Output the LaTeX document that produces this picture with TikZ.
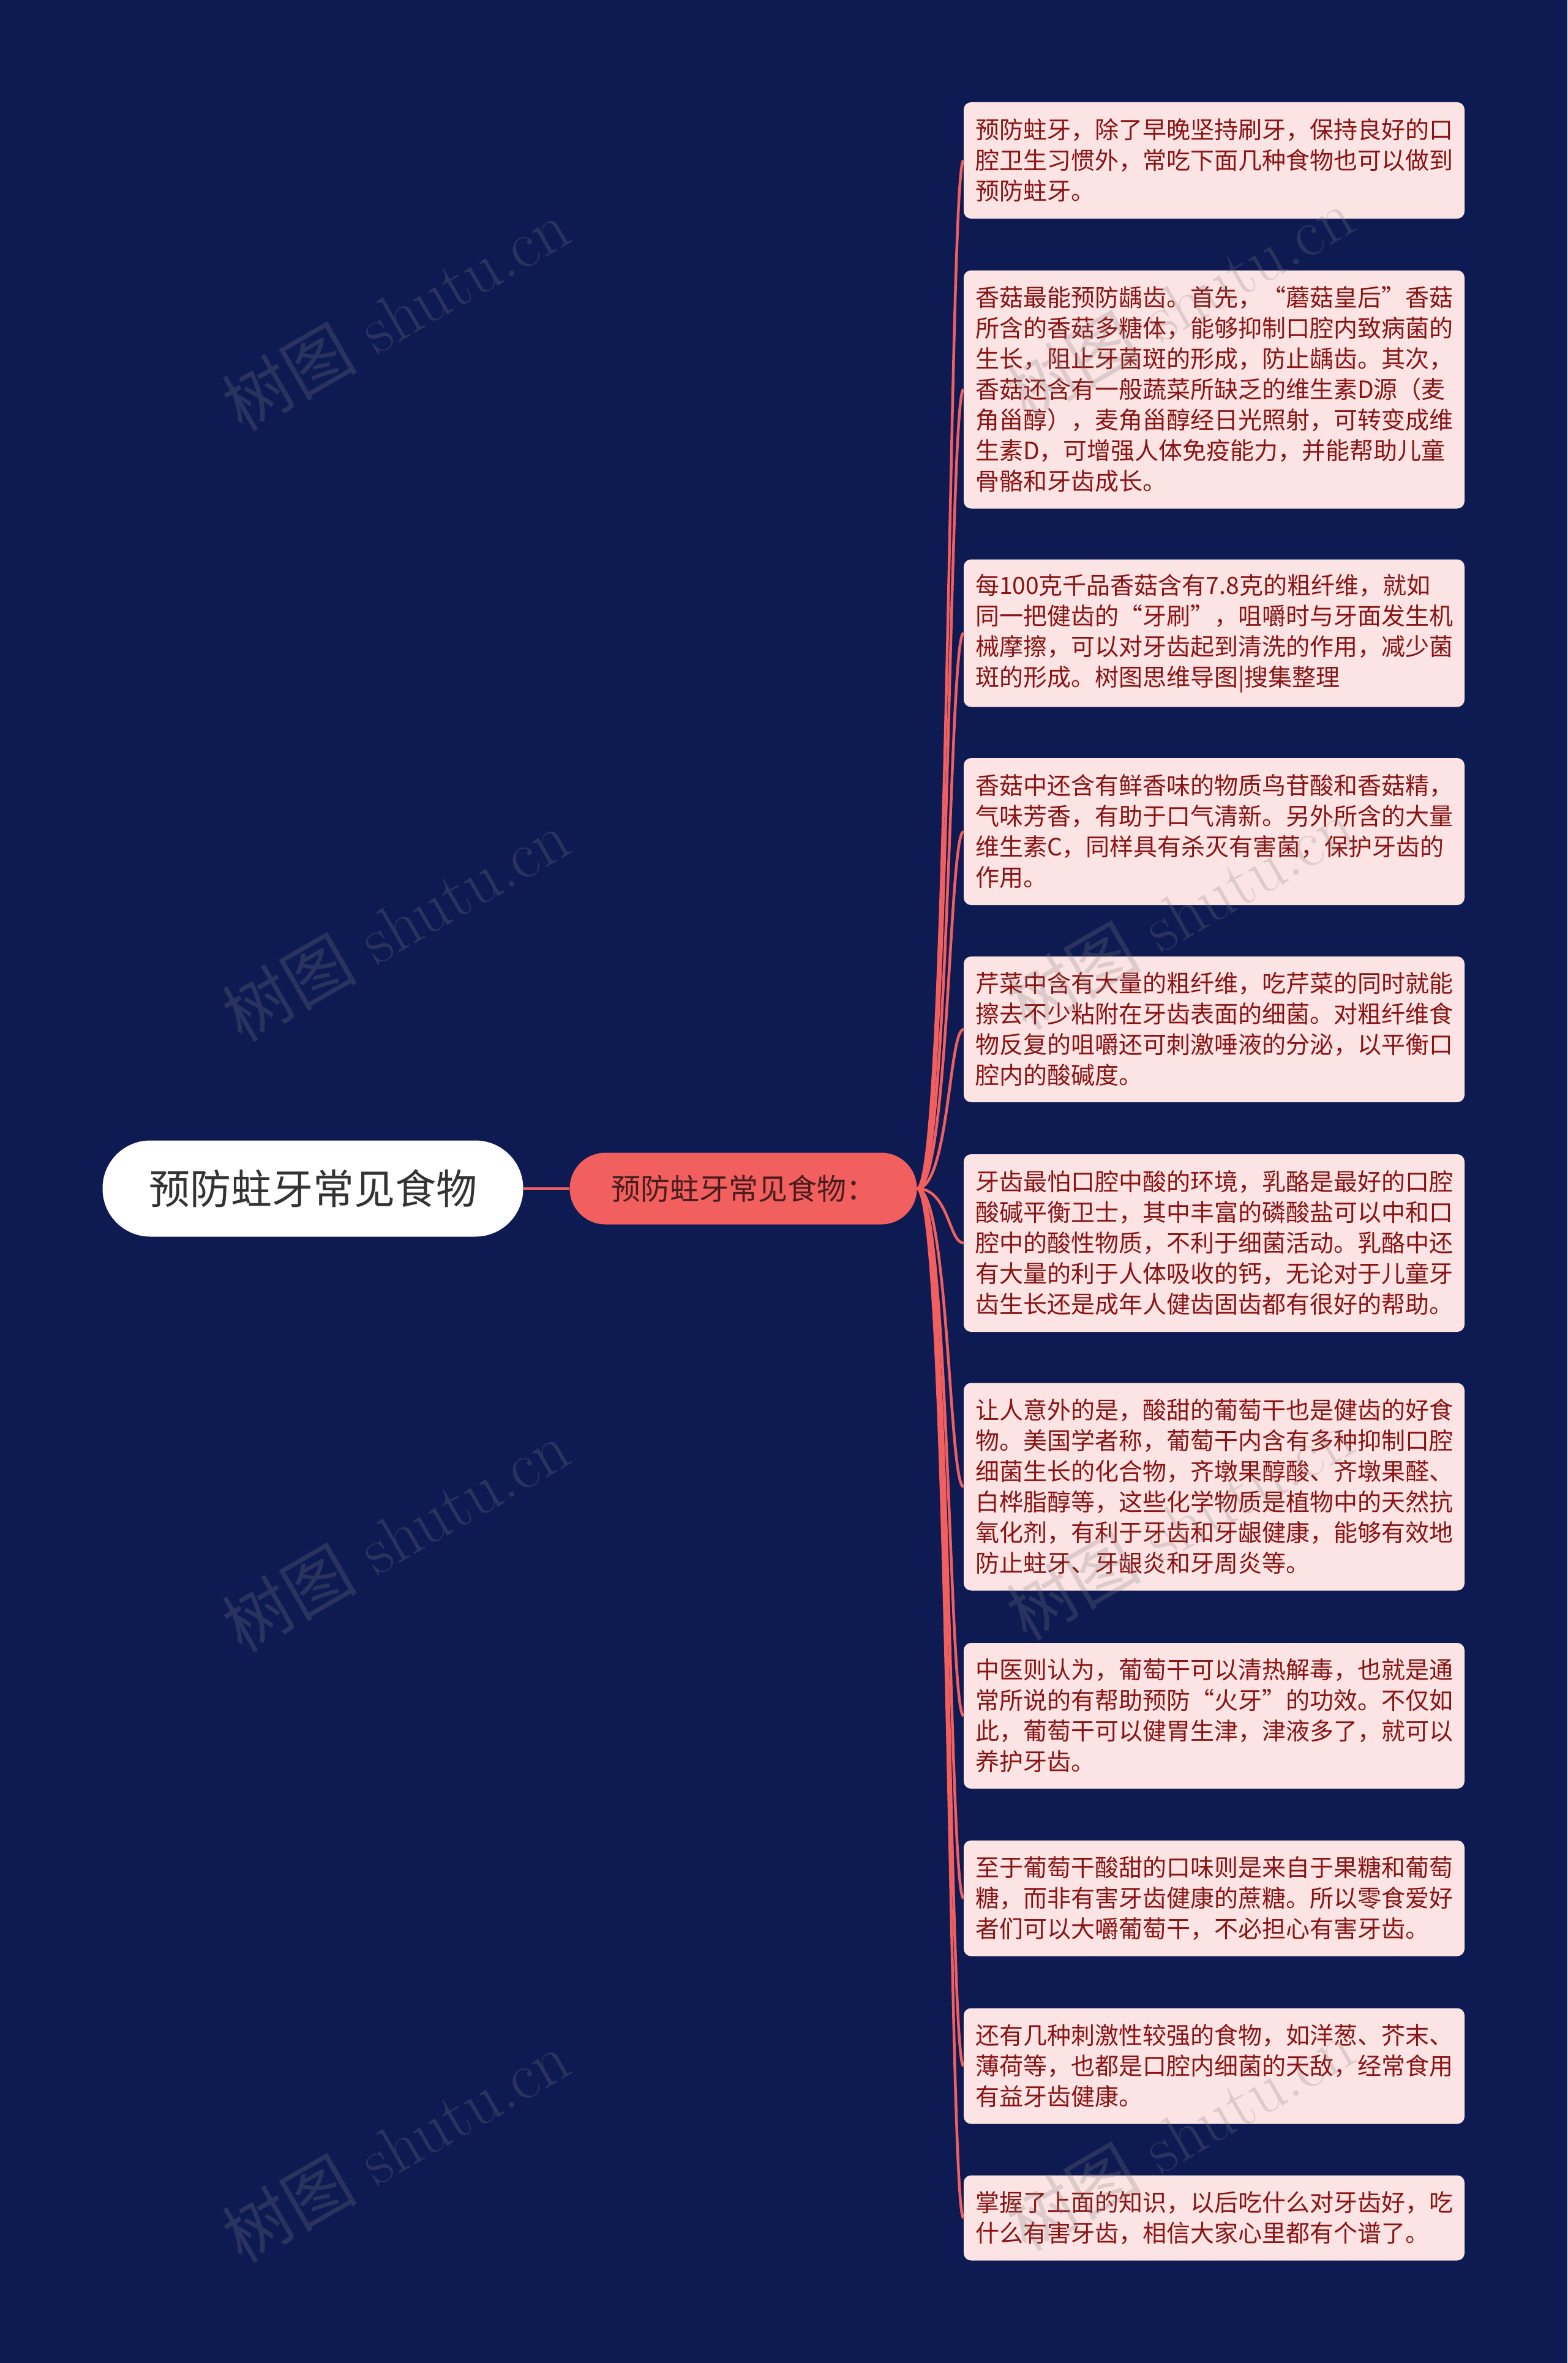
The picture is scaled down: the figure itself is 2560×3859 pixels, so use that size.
\documentclass[tikz,border=0pt]{standalone}
\usepackage{fontspec}
\newfontfamily\cjk{Noto Sans CJK SC}
\definecolor{bgc}{HTML}{0E1A52}
\definecolor{salmon}{HTML}{F15F5F}
\definecolor{boxfill}{HTML}{FDE4E4}
\definecolor{boxtext}{HTML}{8A1414}
\definecolor{midtext}{HTML}{4A1C1C}
\definecolor{roottext}{HTML}{333333}
\begin{document}
\begin{tikzpicture}[x=1pt,y=-1pt,
  conn/.style={draw=salmon, line width=4.5pt},
  box/.style={fill=boxfill, rounded corners=12pt, minimum width=818pt, text width=780pt,
    inner xsep=19pt, inner ysep=0pt, align=left, text=boxtext,
    font=\cjk\fontsize{39}{50}\selectfont},
  wm/.style={rotate=30, text=gray, opacity=0.25, inner sep=0pt,
    font=\fontsize{110}{120}\selectfont}
]
\useasboundingbox (0,0) rectangle (2560,3859);
\fill[bgc] (0,0) rectangle (2560,3859);

\node[fill=white, rounded corners=78pt, minimum width=687pt, minimum height=157pt,
  inner sep=0pt, text=roottext, font=\cjk\fontsize{67}{80}\selectfont] (root) at (511,1941) {预防蛀牙常见食物};
\node[fill=salmon, rounded corners=58pt, minimum width=567pt, minimum height=117pt,
  inner sep=0pt, text=midtext, font=\cjk\fontsize{48}{60}\selectfont] (mid) at (1214,1941) {预防蛀牙常见食物：};

\node[box, minimum height=190pt] (b1) at (1983,262) {预防蛀牙，除了早晚坚持刷牙，保持良好的口\\腔卫生习惯外，常吃下面几种食物也可以做到\\预防蛀牙。};
\node[box, minimum height=389pt] (b2) at (1983,636) {香菇最能预防龋齿。首先，“蘑菇皇后”香菇\\所含的香菇多糖体，能够抑制口腔内致病菌的\\生长，阻止牙菌斑的形成，防止龋齿。其次，\\香菇还含有一般蔬菜所缺乏的维生素D源（麦\\角甾醇），麦角甾醇经日光照射，可转变成维\\生素D，可增强人体免疫能力，并能帮助儿童\\骨骼和牙齿成长。};
\node[box, minimum height=241pt] (b3) at (1983,1034) {每100克千品香菇含有7.8克的粗纤维，就如\\同一把健齿的“牙刷”，咀嚼时与牙面发生机\\械摩擦，可以对牙齿起到清洗的作用，减少菌\\斑的形成。树图思维导图|搜集整理};
\node[box, minimum height=240pt] (b4) at (1983,1358) {香菇中还含有鲜香味的物质鸟苷酸和香菇精，\\气味芳香，有助于口气清新。另外所含的大量\\维生素C，同样具有杀灭有害菌，保护牙齿的\\作用。};
\node[box, minimum height=238pt] (b5) at (1983,1681) {芹菜中含有大量的粗纤维，吃芹菜的同时就能\\擦去不少粘附在牙齿表面的细菌。对粗纤维食\\物反复的咀嚼还可刺激唾液的分泌，以平衡口\\腔内的酸碱度。};
\node[box, minimum height=290pt] (b6) at (1983,2030) {牙齿最怕口腔中酸的环境，乳酪是最好的口腔\\酸碱平衡卫士，其中丰富的磷酸盐可以中和口\\腔中的酸性物质，不利于细菌活动。乳酪中还\\有大量的利于人体吸收的钙，无论对于儿童牙\\齿生长还是成年人健齿固齿都有很好的帮助。};
\node[box, minimum height=339pt] (b7) at (1983,2428) {让人意外的是，酸甜的葡萄干也是健齿的好食\\物。美国学者称，葡萄干内含有多种抑制口腔\\细菌生长的化合物，齐墩果醇酸、齐墩果醛、\\白桦脂醇等，这些化学物质是植物中的天然抗\\氧化剂，有利于牙齿和牙龈健康，能够有效地\\防止蛀牙、牙龈炎和牙周炎等。};
\node[box, minimum height=238pt] (b8) at (1983,2802) {中医则认为，葡萄干可以清热解毒，也就是通\\常所说的有帮助预防“火牙”的功效。不仅如\\此，葡萄干可以健胃生津，津液多了，就可以\\养护牙齿。};
\node[box, minimum height=189pt] (b9) at (1983,3100) {至于葡萄干酸甜的口味则是来自于果糖和葡萄\\糖，而非有害牙齿健康的蔗糖。所以零食爱好\\者们可以大嚼葡萄干，不必担心有害牙齿。};
\node[box, minimum height=189pt] (b10) at (1983,3374) {还有几种刺激性较强的食物，如洋葱、芥末、\\薄荷等，也都是口腔内细菌的天敌，经常食用\\有益牙齿健康。};
\node[box, minimum height=139pt] (b11) at (1983,3622) {掌握了上面的知识，以后吃什么对牙齿好，吃\\什么有害牙齿，相信大家心里都有个谱了。};

\draw[conn] (root.east) -- (mid.west);
\foreach \i in {1,...,11}
  \draw[conn] (mid.east) .. controls +(52,0) and +(-24,0) .. (b\i.west);

\node[wm] (wm1) at (646,514) {{\cjk 树图} shutu.cn};
\node[wm] (wm2) at (646,1511) {{\cjk 树图} shutu.cn};
\node[wm] (wm3) at (646,2508) {{\cjk 树图} shutu.cn};
\node[wm] (wm4) at (646,3505) {{\cjk 树图} shutu.cn};
\node[wm] (wm5) at (1927,495) {{\cjk 树图} shutu.cn};
\node[wm] (wm6) at (1927,1492) {{\cjk 树图} shutu.cn};
\node[wm] (wm7) at (1927,2489) {{\cjk 树图} shutu.cn};
\node[wm] (wm8) at (1927,3486) {{\cjk 树图} shutu.cn};
\end{tikzpicture}
\end{document}
